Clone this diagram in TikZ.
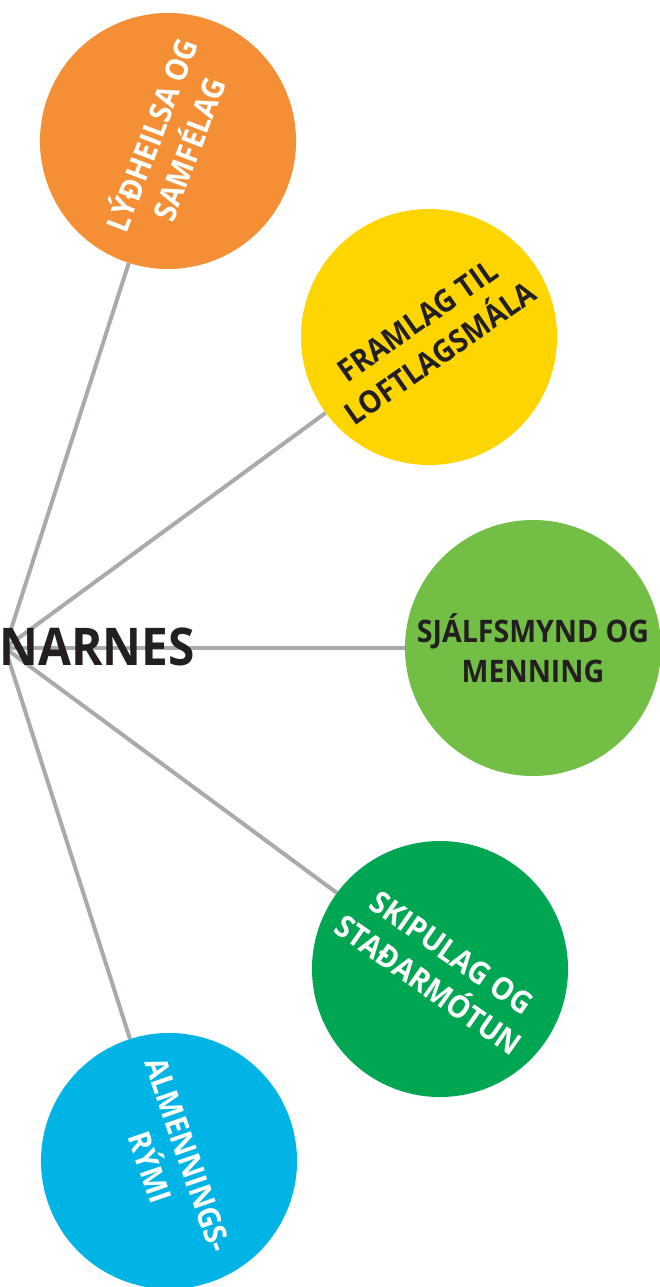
\documentclass[tikz,border=0pt]{standalone}
\usepackage{fontspec}
\setmainfont{Open Sans}[FakeStretch=0.92]
\usetikzlibrary{backgrounds}
\definecolor{corange}{HTML}{F48F36}
\definecolor{cyellow}{HTML}{FFD500}
\definecolor{clgreen}{HTML}{73BF45}
\definecolor{cdgreen}{HTML}{00A651}
\definecolor{cblue}{HTML}{00B5E5}
\definecolor{cgray}{HTML}{A7ABAE}
\definecolor{cdark}{HTML}{231F20}
\tikzset{
  topic/.style={circle, minimum size=256pt, inner sep=0pt, align=center,
    font=\bfseries\fontsize{31}{40}\selectfont},
  link/.style={draw=cgray, line width=4pt},
  title/.style={font=\bfseries\fontsize{52}{60}\selectfont, text=cdark, inner sep=0pt, anchor=west}
}
\begin{document}
\begin{tikzpicture}[x=1pt,y=-1pt]
\useasboundingbox (0,0) rectangle (660,1287);
\coordinate (hub) at (5,648);
\node[title] (narnes) at (-1,647) {NARNES};
\node[topic, fill=corange, text=white, rotate=69] (c1) at (168,141) {LÝÐHEILSA OG\\SAMFÉLAG};
\node[topic, fill=cyellow, text=cdark, rotate=35] (c2) at (429,337) {FRAMLAG TIL\\LOFTLAGSMÁLA};
\node[topic, fill=clgreen, text=cdark] (c3) at (533,648) {SJÁLFSMYND OG\\MENNING};
\node[topic, fill=cdgreen, text=white, rotate=-35] (c4) at (440,969) {SKIPULAG OG\\STAÐARMÓTUN};
\node[topic, fill=cblue, text=white, rotate=-71] (c5) at (169,1161) {ALMENNINGS-\\RÝMI};
\begin{scope}[on background layer]
\draw[link] (hub) -- (c1);
\draw[link] (hub) -- (c2);
\draw[link] (hub) -- (c3);
\draw[link] (hub) -- (c4);
\draw[link] (hub) -- (c5);
\end{scope}
\end{tikzpicture}
\end{document}
